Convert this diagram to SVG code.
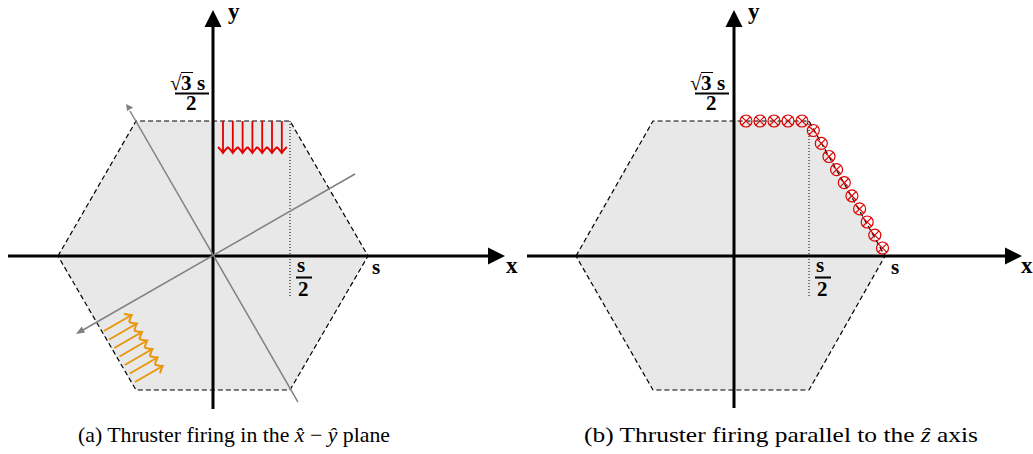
<svg xmlns="http://www.w3.org/2000/svg" width="1033" height="454" viewBox="0 0 1033 454">
<style>
.hex{fill:#e8e8e8;stroke:#000;stroke-width:1.2;stroke-dasharray:5 3}
.axis{stroke:#000;stroke-width:3;fill:none}
.dot{stroke:#000;stroke-width:1;stroke-dasharray:1 2;fill:none}
.gray{stroke:#808080;stroke-width:1.5;fill:none}
.lbl{font-family:"Liberation Serif",serif;font-weight:bold;font-size:21px;fill:#000}
.ax{font-family:"Liberation Serif",serif;font-weight:bold;font-size:23px;fill:#000}
.cap{font-family:"Liberation Serif",serif;font-size:21px;fill:#000}
.red{stroke:#e00000;stroke-width:1.8;fill:none}
.org{stroke:#e8960c;stroke-width:2;fill:none}
.frac{stroke:#000;stroke-width:2}
</style>
<defs>
<g id="thr">
<line x1="0" y1="0" x2="31" y2="0"/>
<path d="M26,-5 Q29.5,-1.5 32,0 Q29.5,1.5 26,5"/>
</g>
<g id="otimes">
<circle cx="0" cy="0" r="6"/>
<path d="M-4.2,-4.2 L4.2,4.2 M-4.2,4.2 L4.2,-4.2"/>
</g>
</defs>

<g id="panel-a">
<g id="hex-a"><polygon class="hex" points="58,256 136,121 290,121 368,256 290,390 136,390"/></g>
<g id="axes-a">
<line class="axis" x1="8" y1="256" x2="490" y2="256"/>
<polygon points="505,256 488,247.5 488,264.5" fill="#000"/>
<line class="axis" x1="213" y1="409" x2="213" y2="26"/>
<polygon points="213,10 204.5,27 221.5,27" fill="#000"/>
<text class="ax" x="228" y="19">y</text>
<text class="ax" x="506" y="273">x</text>
</g>
<g id="dotted-a"><line class="dot" x1="290" y1="121" x2="290" y2="298"/></g>
<g id="labels-a">
<text class="lbl" x="372" y="274">s</text>
<text class="lbl" x="297" y="272">s</text>
<line class="frac" x1="296" y1="277.5" x2="312" y2="277.5"/>
<text class="lbl" x="298" y="296">2</text>
<text class="lbl" x="170" y="90" style="font-weight:normal">√</text>
<line x1="181" y1="72.5" x2="193" y2="72.5" stroke="#000" stroke-width="1"/>
<text class="lbl" x="181" y="90">3</text>
<text class="lbl" x="197" y="90">s</text>
<line class="frac" x1="175" y1="93.5" x2="209" y2="93.5"/>
<text class="lbl" x="186" y="110">2</text>
</g>
<g id="connectors-a">
<line class="gray" x1="298" y1="402" x2="130" y2="111"/>
<polygon points="126,104 133.2,107.6 127.1,111.1" fill="#808080"/>
<line class="gray" x1="355" y1="174" x2="83" y2="330"/>
<polygon points="76,334 81.6,326.6 85.1,332.6" fill="#808080"/>
</g>
<g id="thrusters-a-red" class="red">
<use href="#thr" transform="translate(223,121) rotate(90)"/>
<use href="#thr" transform="translate(232.8,121) rotate(90)"/>
<use href="#thr" transform="translate(242.6,121) rotate(90)"/>
<use href="#thr" transform="translate(252.4,121) rotate(90)"/>
<use href="#thr" transform="translate(262.2,121) rotate(90)"/>
<use href="#thr" transform="translate(272,121) rotate(90)"/>
<use href="#thr" transform="translate(281.8,121) rotate(90)"/>
</g>
<g id="thrusters-a-orange" class="org">
<use href="#thr" transform="translate(104,331) rotate(-30)"/>
<use href="#thr" transform="translate(109.2,339.5) rotate(-30)"/>
<use href="#thr" transform="translate(114.3,348) rotate(-30)"/>
<use href="#thr" transform="translate(119.5,356.5) rotate(-30)"/>
<use href="#thr" transform="translate(124.7,365) rotate(-30)"/>
<use href="#thr" transform="translate(129.8,373.5) rotate(-30)"/>
<use href="#thr" transform="translate(135,382) rotate(-30)"/>
</g>
</g>

<g id="panel-b">
<g id="hex-b"><polygon class="hex" points="576,256 653,121 809,121 885,256 809,390 653,390"/></g>
<g id="axes-b">
<line class="axis" x1="527" y1="256" x2="1008" y2="256"/>
<polygon points="1022,256 1005,247.5 1005,264.5" fill="#000"/>
<line class="axis" x1="734" y1="408" x2="734" y2="26"/>
<polygon points="734,10 725.5,27 742.5,27" fill="#000"/>
<text class="ax" x="748" y="19">y</text>
<text class="ax" x="1021" y="273">x</text>
</g>
<g id="dotted-b"><line class="dot" x1="809" y1="121" x2="809" y2="298"/></g>
<g id="labels-b">
<text class="lbl" x="891" y="274">s</text>
<text class="lbl" x="816" y="272">s</text>
<line class="frac" x1="815" y1="277.5" x2="831" y2="277.5"/>
<text class="lbl" x="817" y="296">2</text>
<text class="lbl" x="690" y="90" style="font-weight:normal">√</text>
<line x1="701" y1="72.5" x2="713" y2="72.5" stroke="#000" stroke-width="1"/>
<text class="lbl" x="701" y="90">3</text>
<text class="lbl" x="717" y="90">s</text>
<line class="frac" x1="695" y1="93.5" x2="729" y2="93.5"/>
<text class="lbl" x="706" y="110">2</text>
</g>
<g id="thrusters-b" stroke="#e00000" stroke-width="1.2" fill="none">
<use href="#otimes" transform="translate(746,121)"/>
<use href="#otimes" transform="translate(760,121)"/>
<use href="#otimes" transform="translate(774,121)"/>
<use href="#otimes" transform="translate(788,121)"/>
<use href="#otimes" transform="translate(802,121)"/>
<use href="#otimes" transform="translate(813.3,130.5)"/>
<use href="#otimes" transform="translate(821.3,143.4)"/>
<use href="#otimes" transform="translate(829,156.5)"/>
<use href="#otimes" transform="translate(836.6,169.6)"/>
<use href="#otimes" transform="translate(844.3,182.7)"/>
<use href="#otimes" transform="translate(851.9,195.8)"/>
<use href="#otimes" transform="translate(859.6,208.9)"/>
<use href="#otimes" transform="translate(867.2,222)"/>
<use href="#otimes" transform="translate(874.8,235.1)"/>
<use href="#otimes" transform="translate(882.5,248)"/>
</g>
</g>

<g id="captions">
<text class="cap" x="78" y="442" textLength="312" lengthAdjust="spacingAndGlyphs">(a) Thruster firing in the <tspan font-style="italic">x̂</tspan> − <tspan font-style="italic">ŷ</tspan> plane</text>
<text class="cap" x="584" y="442" textLength="394" lengthAdjust="spacingAndGlyphs">(b) Thruster firing parallel to the <tspan font-style="italic">ẑ</tspan> axis</text>
</g>
</svg>
